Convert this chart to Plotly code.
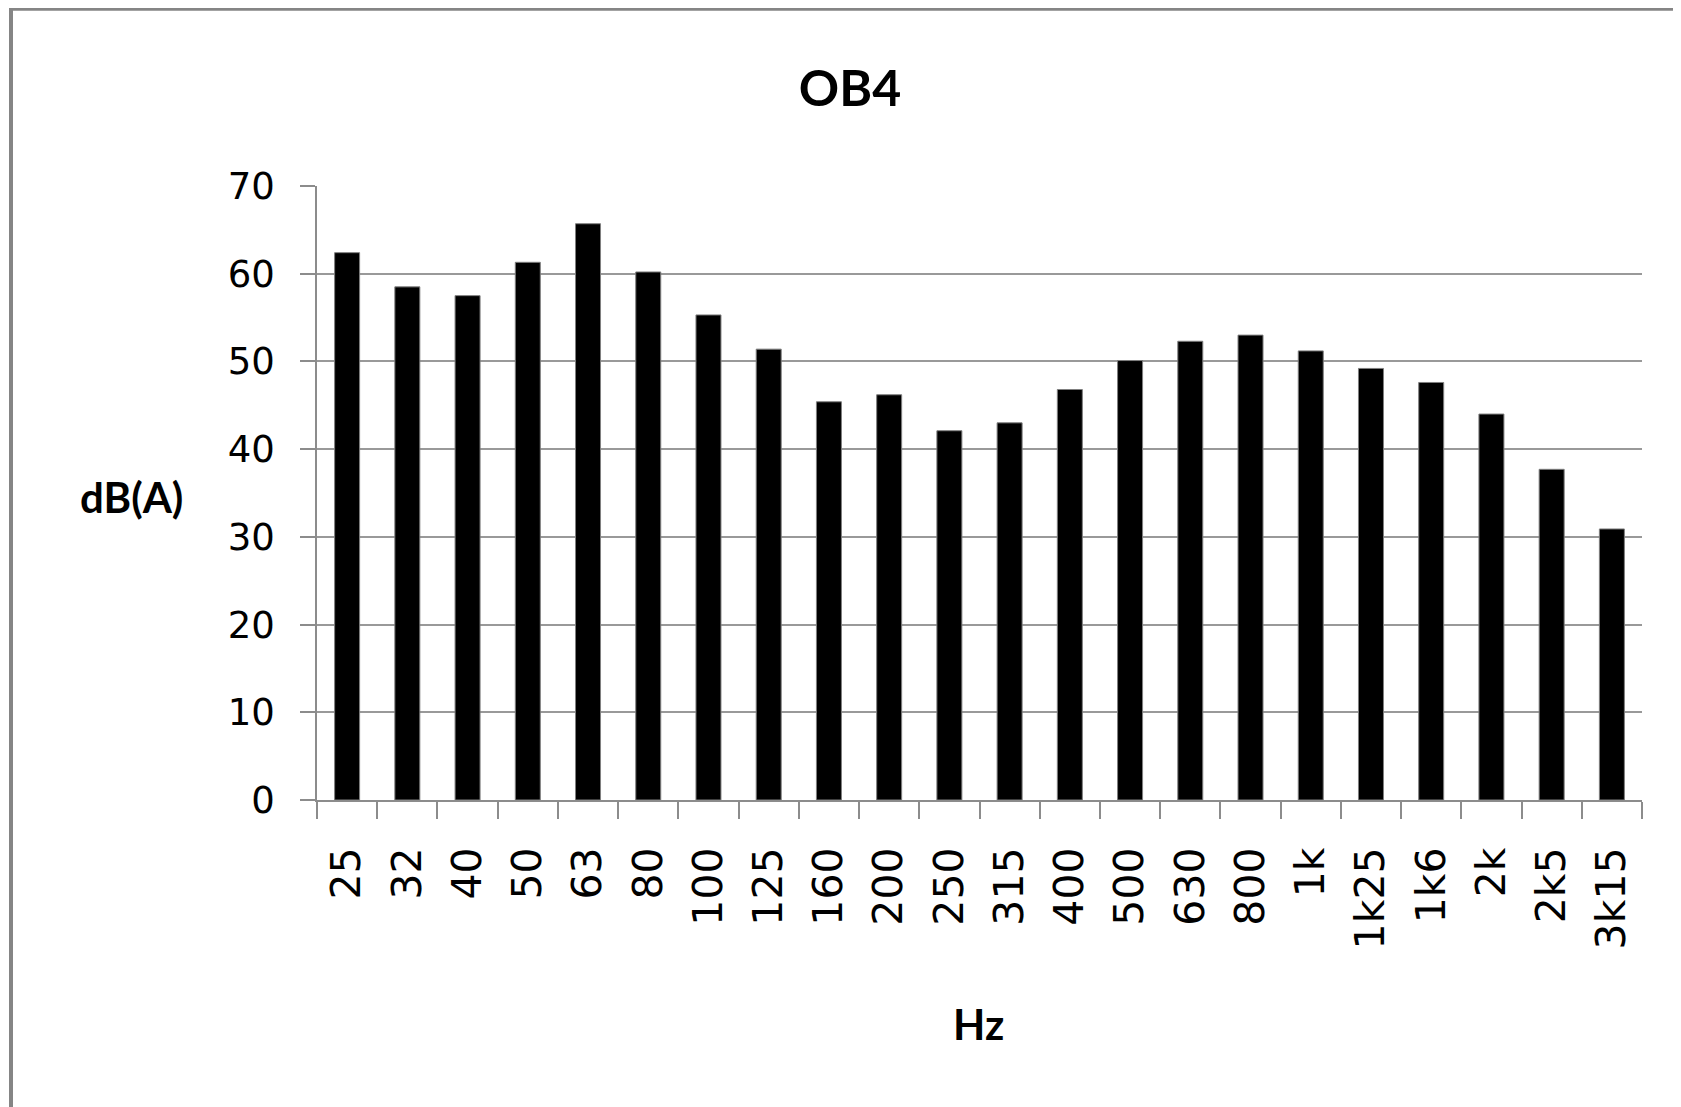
import plotly.graph_objects as go

categories = ["25", "32", "40", "50", "63", "80", "100", "125", "160", "200", "250",
              "315", "400", "500", "630", "800", "1k", "1k25", "1k6", "2k", "2k5", "3k15"]
values = [62.4, 58.5, 57.5, 61.3, 65.7, 60.2, 55.3, 51.4, 45.4, 46.2, 42.1,
          43.0, 46.8, 50.1, 52.3, 53.0, 51.2, 49.2, 47.6, 44.0, 37.7, 30.9]
y_ticks = [0, 10, 20, 30, 40, 50, 60, 70]

# page offset of the figure (default body margin of the html page)
OFF = 8
W, H = 1681 - OFF, 1107 - OFF
L, R, T, B = 317 - OFF, 39, 185.5 - OFF, 307
pw = W - L - R
ph = H - T - B


def px_x(x_page):
    return (x_page - OFF - L) / pw


def px_y(y_page):
    return (H - B - (y_page - OFF)) / ph


title_font = "Lato, Open Sans, sans-serif"
tick_font = "DejaVu Sans, Verdana, sans-serif"

fig = go.Figure(go.Bar(
    x=categories, y=values,
    marker=dict(color="#000000", line=dict(color="#7f7f7f", width=1)),
))

fig.update_layout(
    width=W, height=H,
    margin=dict(l=L, r=R, t=T, b=B, autoexpand=False),
    paper_bgcolor="white", plot_bgcolor="white",
    bargap=0.585,
    showlegend=False,
    title=dict(text="<b>OB4</b>", x=(850 - OFF) / W, y=1 - (88 - OFF) / H,
               xref="container", yref="container",
               xanchor="center", yanchor="middle",
               font=dict(family=title_font, size=50, color="black")),
    xaxis=dict(
        type="category", tickangle=-90, ticks="outside", tickson="boundaries",
        ticklen=17, tickwidth=1.5, tickcolor="#8c8c8c",
        showline=True, linecolor="#8c8c8c", linewidth=2,
        showgrid=False, automargin=False,
        tickfont=dict(family=tick_font, size=41, color="#000"),
        ticklabelstandoff=29,
    ),
    yaxis=dict(
        range=[0, 70], tickvals=y_ticks, ticks="outside", ticklen=15, tickwidth=1.5,
        tickcolor="#8c8c8c", showline=True, linecolor="#8c8c8c", linewidth=1.5,
        showgrid=True, gridcolor="#999999", gridwidth=1.8, zeroline=False,
        automargin=False,
        tickfont=dict(family=tick_font, size=37, color="#000"),
        ticklabelstandoff=18,
    ),
    annotations=[
        dict(text="<b>dB(A)</b>", xref="paper", yref="paper", x=px_x(131), y=px_y(497),
             xanchor="center", yanchor="middle", showarrow=False,
             font=dict(family=title_font, size=42, color="black")),
        dict(text="<b>Hz</b>", xref="paper", yref="paper", x=px_x(978), y=px_y(1024),
             xanchor="center", yanchor="middle", showarrow=False,
             font=dict(family=title_font, size=42, color="black")),
    ],
    shapes=[
        dict(type="line", xref="paper", yref="paper", x0=px_x(9), x1=px_x(1700),
             y0=px_y(8), y1=px_y(8), line=dict(color="#858585", width=4)),
        dict(type="line", xref="paper", yref="paper", x0=px_x(11), x1=px_x(11),
             y0=px_y(6), y1=px_y(1120), line=dict(color="#858585", width=4)),
    ],
)

fig.write_html("out.html")
